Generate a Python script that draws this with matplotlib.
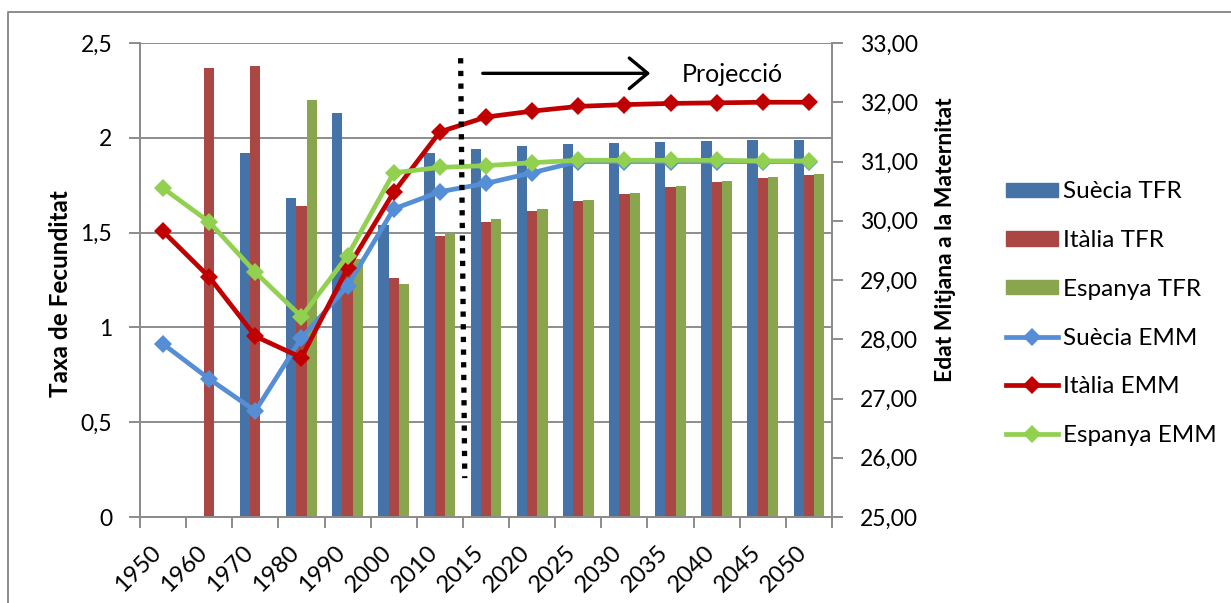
import numpy as np
import matplotlib
matplotlib.use("Agg")
import matplotlib.pyplot as plt
from matplotlib.lines import Line2D
from matplotlib.patches import Patch

plt.rcParams['font.family'] = ['Lato', 'DejaVu Sans']

years = ['1950', '1960', '1970', '1980', '1990', '2000', '2010', '2015',
         '2020', '2025', '2030', '2035', '2040', '2045', '2050']
nan = np.nan
suecia_tfr = [nan, nan, 1.92, 1.68, 2.13, 1.54, 1.92, 1.94, 1.955, 1.965,
              1.973, 1.978, 1.983, 1.987, 1.99]
italia_tfr = [nan, 2.37, 2.38, 1.64, 1.33, 1.26, 1.48, 1.555, 1.615, 1.665,
              1.705, 1.74, 1.767, 1.79, 1.806]
espanya_tfr = [nan, nan, nan, 2.20, 1.36, 1.23, 1.50, 1.57, 1.625, 1.673,
               1.711, 1.744, 1.77, 1.792, 1.807]
suecia_emm = [27.92, 27.33, 26.79, 28.02, 28.90, 30.20, 30.49, 30.63, 30.81,
              31.0, 31.0, 31.0, 31.0, 31.0, 31.0]
italia_emm = [29.82, 29.05, 28.05, 27.69, 29.20, 30.48, 31.50, 31.75, 31.85,
              31.93, 31.96, 31.98, 31.99, 32.0, 32.0]
espanya_emm = [30.55, 29.98, 29.13, 28.38, 29.41, 30.81, 30.90, 30.93, 30.98,
               31.02, 31.02, 31.02, 31.02, 31.01, 31.01]
left_ticks = [0, 0.5, 1, 1.5, 2, 2.5]
left_labels = ['0', '0,5', '1', '1,5', '2', '2,5']
right_ticks = [25, 26, 27, 28, 29, 30, 31, 32, 33]
right_labels = ['25,00', '26,00', '27,00', '28,00', '29,00', '30,00',
                '31,00', '32,00', '33,00']

W, H = 1231, 603
fig = plt.figure(figsize=(W / 100, H / 100), dpi=100)
ax = fig.add_axes([140 / W, 1 - 517 / H, (832 - 140) / W, (517 - 43) / H])
ax2 = ax.twinx()

grid_c = '#8c8c8c'
c_bar = ['#4572A7', '#AA4643', '#89A54E']
c_line = ['#558ED5', '#C00000', '#92D050']

x = np.arange(len(years))
bw = 1 / 4.5
for i, (vals, c) in enumerate(zip([suecia_tfr, italia_tfr, espanya_tfr], c_bar)):
    ax.bar(x + (i - 1) * bw, vals, width=bw, color=c, zorder=2)

ax.set_xlim(-0.5, len(years) - 0.5)
ax.set_ylim(0, 2.5)
ax.set_yticks(left_ticks, left_labels)
ax.yaxis.grid(True, color=grid_c, lw=1.4, zorder=0)
ax.set_axisbelow(True)
ax.set_xticks(np.arange(-0.5, len(years), 1.0), [''] * (len(years) + 1))
# category labels: rotated, anchored slightly left of the category centre
ax.set_xticks(x - 0.28, years, minor=True)
ax.tick_params(axis='x', which='major', length=8, width=1.4, color=grid_c, direction='out')
ax.tick_params(axis='x', which='minor', length=0, labelsize=17.2, pad=18)
for lab in ax.get_xticklabels(minor=True):
    lab.set_rotation(45)
    lab.set_ha('right')
    lab.set_va('top')
    lab.set_rotation_mode('anchor')
ax.tick_params(axis='y', length=8, width=1.4, color=grid_c, labelsize=16.5, pad=12)

ax2.set_ylim(25, 33)
ax2.set_yticks(right_ticks, right_labels)
ax2.tick_params(axis='y', length=8, width=1.4, color=grid_c, labelsize=16.5, pad=12)

for sp in ['left', 'right', 'bottom']:
    ax.spines[sp].set_color(grid_c)
    ax.spines[sp].set_linewidth(1.4)
    ax2.spines[sp].set_color(grid_c)
    ax2.spines[sp].set_linewidth(1.4)
ax.spines['top'].set_visible(False)
ax2.spines['top'].set_visible(False)

for vals, c in zip([suecia_emm, italia_emm, espanya_emm], c_line):
    ax2.plot(x, vals, color=c, lw=3.4, marker='D', markersize=9.5,
             markeredgewidth=0, solid_capstyle='round', zorder=3)

# dotted separator, arrow and text
ax2.plot([6.45, 6.54], [2.42, 0.205], transform=ax.transData, color='black',
         lw=3.8, linestyle=(0, (1.0, 1.4)), dash_capstyle='butt', zorder=5)
ax2.annotate('', xy=(10.56, 2.34), xytext=(6.93, 2.34), xycoords=ax.transData,
             textcoords=ax.transData,
             arrowprops=dict(arrowstyle='->,head_length=0.6,head_width=0.5',
                             lw=2.4, color='black', mutation_scale=22,
                             shrinkA=0, shrinkB=0), zorder=5)
ax2.text(11.24, 2.335, 'Projecció', transform=ax.transData, ha='left',
         va='center', fontsize=18, zorder=5)

fig.text(60 / W, 1 - 294 / H, 'Taxa de Fecunditat', rotation=90, ha='center',
         va='center', fontsize=17.5, fontweight='bold')
fig.text(946 / W, 1 - 240 / H, 'Edat Mitjana a la Maternitat', rotation=90,
         ha='center', va='center', fontsize=16.5, fontweight='bold')

handles = [Patch(color=c_bar[0]), Patch(color=c_bar[1]), Patch(color=c_bar[2])]
for c in c_line:
    handles.append(Line2D([], [], color=c, lw=3.4, marker='D', markersize=9.5,
                          markeredgewidth=0))
labels = ['Suècia TFR', 'Itàlia TFR', 'Espanya TFR', 'Suècia EMM',
          'Itàlia EMM', 'Espanya EMM']
fig.legend(handles, labels, loc='upper left', bbox_to_anchor=(1006 / W, 1 - 181.5 / H),
           frameon=False, fontsize=17.5, borderpad=0, borderaxespad=0,
           handlelength=2.14, handleheight=0.53, handletextpad=0.2,
           labelspacing=1.14, numpoints=1)

# outer chart frame
fig.add_artist(Line2D([8 / W, 8 / W, 1], [0, 1 - 12 / H, 1 - 12 / H],
                      transform=fig.transFigure, color='#8c8c8c', lw=1.4))

fig.savefig('out.png', dpi=100)
